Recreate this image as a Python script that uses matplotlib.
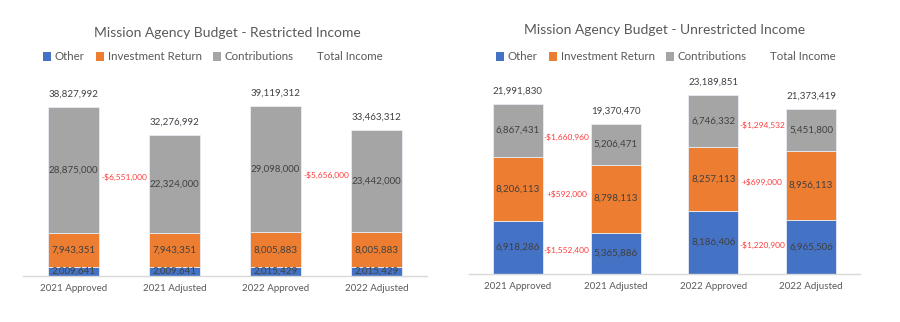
import matplotlib
matplotlib.use("Agg")
import matplotlib.pyplot as plt
from matplotlib.patches import Patch
from matplotlib.lines import Line2D

plt.rcParams['font.family'] = ['Lato', 'DejaVu Sans']

categories = ["2021 Approved", "2021 Adjusted", "2022 Approved", "2022 Adjusted"]
series_names = ["Other", "Investment Return", "Contributions", "Total Income"]

# Restricted income
r_other = [2009641, 2009641, 2015429, 2015429]
r_invest = [7943351, 7943351, 8005883, 8005883]
r_contrib = [28875000, 22324000, 29098000, 23442000]

# Unrestricted income
u_other = [6918286, 5365886, 8186406, 6965506]
u_invest = [8206113, 8798113, 8257113, 8956113]
u_contrib = [6867431, 5206471, 6746332, 5451800]

colors = ["#4472C4", "#ED7D31", "#A5A5A5"]
TXT = "#404040"
GREY = "#595959"

fig = plt.figure(figsize=(9, 3.22), dpi=100)
W, H = 900, 322


def px_axes(x0, y_base, w, h):
    return fig.add_axes([x0 / W, (H - y_base) / H, w / W, h / H])


def fmt(v):
    return f"{v:,.0f}"


def fmt_diff(d):
    sign = "+" if d > 0 else "-"
    return f"{sign}${abs(d):,.0f}"


def draw(ax, other, invest, contrib, ymax):
    x = list(range(len(categories)))
    width = 0.51
    bottoms = [0] * len(x)
    segs = [other, invest, contrib]
    mids = []
    for vals, col in zip(segs, colors):
        ax.bar(x, vals, width, bottom=bottoms, color=col, edgecolor="#E8ECF4",
               linewidth=0.6, zorder=2)
        m = []
        for i, v in enumerate(vals):
            ax.text(x[i], bottoms[i] + v / 2, fmt(v), ha="center", va="center",
                    fontsize=7, color=TXT, zorder=3)
            m.append(bottoms[i] + v / 2)
        mids.append(m)
        bottoms = [b + v for b, v in zip(bottoms, vals)]
    for i, t in enumerate(bottoms):
        ax.annotate(fmt(t), (x[i], t), xytext=(0, 6), textcoords="offset points",
                    ha="center", va="bottom", fontsize=7, color=TXT)
    # differences between approved and adjusted
    for a in (0, 2):
        b = a + 1
        for vals, m in zip(segs, mids):
            d = vals[b] - vals[a]
            if d != 0:
                ax.text((x[a] + x[b]) / 2, (m[a] + m[b]) / 2, fmt_diff(d),
                        ha="center", va="center", fontsize=6, color="#FF3B3B")
    ax.set_xlim(-0.5, len(x) - 0.5)
    ax.set_ylim(0, ymax)
    ax.set_xticks(x)
    ax.set_xticklabels(categories, fontsize=7, color=GREY)
    ax.tick_params(axis="x", length=0, pad=6)
    ax.set_yticks([])
    for s in ("top", "right", "left"):
        ax.spines[s].set_visible(False)
    ax.spines["bottom"].set_color("#D9D9D9")
    ax.spines["bottom"].set_linewidth(1.0)


ax1 = px_axes(23, 276, 404, 186)
draw(ax1, r_other, r_invest, r_contrib, 42.7e6)
ax2 = px_axes(469, 274, 391, 190)
draw(ax2, u_other, u_invest, u_contrib, 24.6e6)

fig.text(227 / W, 1 - 33 / H, "Mission Agency Budget - Restricted Income",
         ha="center", va="center", fontsize=10, color=GREY)
fig.text(665 / W, 1 - 30 / H, "Mission Agency Budget - Unrestricted Income",
         ha="center", va="center", fontsize=10, color=GREY)

handles = [Patch(facecolor=c, edgecolor="none") for c in colors]
handles.append(Line2D([], [], linestyle="none", marker=None))
for cx, cy in ((213, 57), (666, 57)):
    leg = fig.legend(handles, series_names, loc="center", ncol=4,
                     bbox_to_anchor=(cx / W, 1 - cy / H), frameon=False,
                     fontsize=8.3, handlelength=0.7, handleheight=0.7,
                     handletextpad=0.3, columnspacing=1.0, labelcolor=GREY)

fig.savefig("out.png", dpi=100, facecolor="white")
